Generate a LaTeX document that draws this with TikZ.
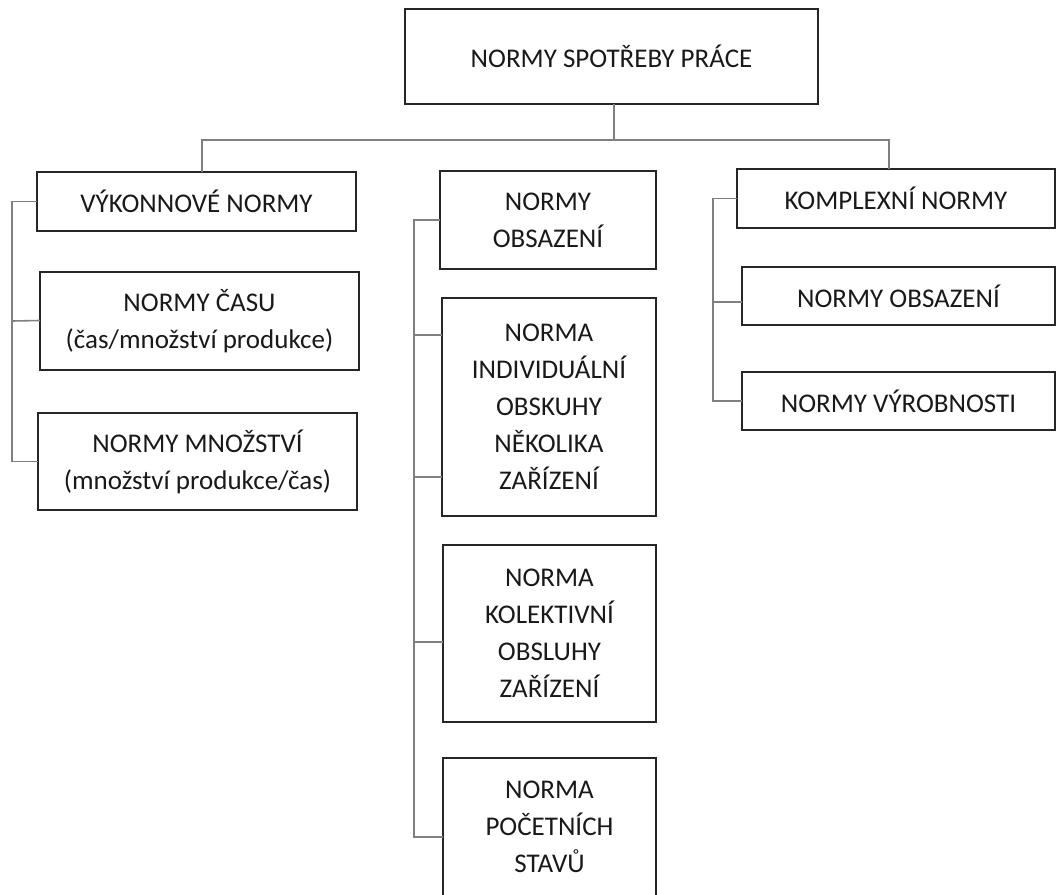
\documentclass[tikz,border=0pt]{standalone}
\usepackage{fontspec}
\setmainfont{Carlito}
\begin{document}
\begin{tikzpicture}[x=1pt,y=-1pt,
  box/.style={draw=black!85, line width=1.8pt, rectangle, inner sep=0pt, outer sep=0pt,
    align=center, text=black!90, font=\fontsize{27}{37}\selectfont},
  conn/.style={draw=black!50, line width=1.6pt}]
\useasboundingbox (0,0) rectangle (1057,894);
\clip (0,0) rectangle (1057,894);
% top
\node[box, minimum width=413pt, minimum height=95pt] (top) at (611.5,56.5) {NORMY SPOTŘEBY PRÁCE};
% left column
\node[box, minimum width=319pt, minimum height=59pt] (vyk) at (196.5,201.5) {VÝKONNOVÉ NORMY};
\node[box, minimum width=319pt, minimum height=98pt] (cas) at (199.5,321) {NORMY ČASU\\(čas/množství produkce)};
\node[box, minimum width=319pt, minimum height=97pt] (mno) at (197.5,461.5) {NORMY MNOŽSTVÍ\\(množství produkce/čas)};
% middle column
\node[box, minimum width=216pt, minimum height=98pt] (obs) at (548,220) {NORMY\\OBSAZENÍ};
\node[box, minimum width=214pt, minimum height=218pt] (ind) at (549,407) {NORMA\\INDIVIDUÁLNÍ\\OBSKUHY\\NĚKOLIKA\\ZAŘÍZENÍ};
\node[box, minimum width=213pt, minimum height=177pt] (kol) at (549.5,633.5) {NORMA\\KOLEKTIVNÍ\\OBSLUHY\\ZAŘÍZENÍ};
\node[box, minimum width=213pt, minimum height=138pt] (poc) at (549.5,827) {NORMA\\POČETNÍCH\\STAVŮ};
% right column
\node[box, minimum width=318pt, minimum height=59pt] (kom) at (896,198.5) {KOMPLEXNÍ NORMY};
\node[box, minimum width=313pt, minimum height=58pt] (ob2) at (898.5,296) {NORMY OBSAZENÍ};
\node[box, minimum width=313pt, minimum height=58pt] (vyr) at (898.5,401) {NORMY VÝROBNOSTI};
% helper coordinates
\coordinate (bar) at (0,140);
\coordinate (lb) at (12,0);
\coordinate (mb) at (414,0);
\coordinate (rb) at (713,0);
% top connectors
\draw[conn] ([xshift=2.5pt]top.south) -- ([xshift=2.5pt]top.south |- bar);
\draw[conn] ([xshift=5.5pt]vyk.north) -- ([xshift=5.5pt]vyk.north |- bar) -- ([xshift=-7pt]kom.north |- bar) -- ([xshift=-7pt]kom.north);
% left bracket
\draw[conn] (vyk.west) -- (vyk.west -| lb) -- (mno.west -| lb) -- (mno.west);
\draw[conn] (cas.west -| lb) -- ([yshift=0.5pt]cas.west);
% middle bracket
\draw[conn] (obs.west) -- (obs.west -| mb) -- ([yshift=-10pt]poc.west -| mb) -- ([yshift=-10pt]poc.west);
\draw[conn] ([yshift=72pt]ind.west -| mb) -- ([yshift=72pt]ind.west);
\draw[conn] ([yshift=-70pt]ind.west -| mb) -- ([yshift=-70pt]ind.west);
\draw[conn] ([yshift=-8.5pt]kol.west -| mb) -- ([yshift=-8.5pt]kol.west);
% right bracket
\draw[conn] (kom.west) -- (kom.west -| rb) -- (vyr.west -| rb) -- (vyr.west);
\draw[conn] ([yshift=-6pt]ob2.west -| rb) -- ([yshift=-6pt]ob2.west);
\end{tikzpicture}
\end{document}
